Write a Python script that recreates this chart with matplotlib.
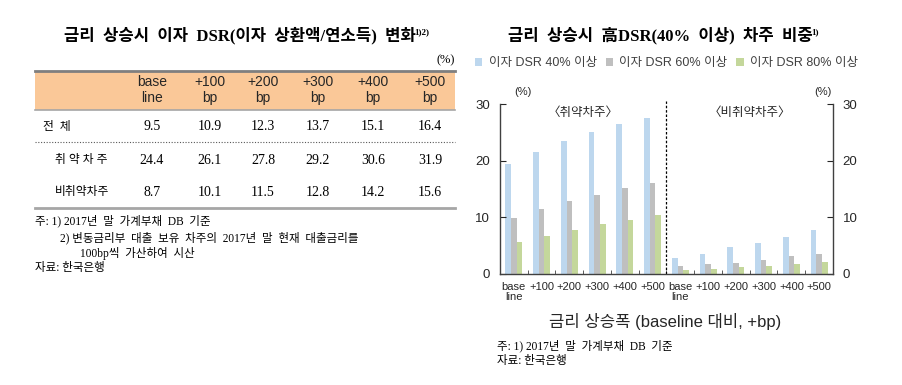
import numpy as np
import matplotlib
matplotlib.use("Agg")
import matplotlib.pyplot as plt
from matplotlib.patches import Rectangle

plt.rcParams['font.family'] = ['Noto Sans CJK KR', 'DejaVu Sans']

SERIF = ['Liberation Serif', 'Noto Sans CJK KR']
SANS = ['Liberation Sans', 'Noto Sans CJK KR']

# ---- table data (left panel) ----
tab_cols = ['base\nline', '+100\nbp', '+200\nbp', '+300\nbp', '+400\nbp', '+500\nbp']
tab_rows = ['전  체', '취 약 차 주', '비취약차주']
dsr_total = [9.5, 10.9, 12.3, 13.7, 15.1, 16.4]
dsr_vuln = [24.4, 26.1, 27.8, 29.2, 30.6, 31.9]
dsr_nonvuln = [8.7, 10.1, 11.5, 12.8, 14.2, 15.6]

# ---- bar data (right panel) ----
groups = ['base\nline', '+100', '+200', '+300', '+400', '+500'] * 2
series_names = ['이자 DSR 40% 이상', '이자 DSR 60% 이상', '이자 DSR 80% 이상']
dsr40 = [19.4, 21.5, 23.5, 25.0, 26.4, 27.6, 2.9, 3.6, 4.7, 5.5, 6.5, 7.8]
dsr60 = [9.8, 11.4, 12.8, 14.0, 15.1, 16.1, 1.4, 1.7, 2.0, 2.5, 3.2, 3.6]
dsr80 = [5.7, 6.7, 7.7, 8.8, 9.6, 10.5, 0.7, 0.8, 1.2, 1.4, 1.8, 2.1]
colors = ['#BDD7EE', '#BFBFBF', '#C4D79B']

fig = plt.figure(figsize=(9.03, 3.85), dpi=100)

# overlay in pixel coords for the table / captions
ov = fig.add_axes([0, 0, 1, 1], zorder=0)
ov.set_xlim(0, 903)
ov.set_ylim(385, 0)
ov.axis('off')

# left title
t1 = ov.text(240, 36, '금리  상승시  이자  DSR(이자  상환액/연소득)  변화', ha='center', va='center',
             fontsize=12, fontweight='bold', family=SERIF)
ov.annotate('1)2)', xy=(1, 1), xycoords=t1, xytext=(-1, -1), textcoords='offset points',
            ha='left', va='top', fontsize=6.5, fontweight='bold', family=SERIF)
ov.text(455, 60, '(%)', ha='right', va='center', fontsize=9, family=SERIF)

# header band
ov.add_patch(Rectangle((35, 71), 420, 38.5, facecolor='#FAC898', edgecolor='none'))
ov.plot([35, 455], [71, 71], color='#7F7F7F', lw=2)
ov.plot([35, 455], [109.5, 109.5], color='#A6A6A6', lw=1.2)
ov.plot([35, 455], [141.5, 141.5], color='#595959', lw=0.8, ls=(0, (1, 1.5)))
ov.plot([35, 455], [208, 208], color='#A6A6A6', lw=2)

col_x = [152, 210, 263, 318, 373, 430]
for cx, lab in zip(col_x, tab_cols):
    ov.text(cx, 90, lab, ha='center', va='center', fontsize=10, family=SANS,
            color='#262626', linespacing=1.1)

row_y = [127, 160, 192]
row_x = [43, 55, 55]
for ry, rx, lab, vals in zip(row_y, row_x, tab_rows, [dsr_total, dsr_vuln, dsr_nonvuln]):
    ov.text(rx, ry, lab, ha='left', va='center', fontsize=8.5, family=SERIF)
    for cx, v in zip(col_x, vals):
        ov.text(cx, ry, f'{v:.1f}', ha='center', va='center', fontsize=10, family=SERIF)

note_kw = dict(ha='left', va='center', fontsize=8.3, family=SERIF)
ov.text(35, 221, '주: 1) 2017년  말  가계부채  DB  기준', **note_kw)
ov.text(60, 238, '2) 변동금리부  대출  보유  차주의  2017년  말  현재  대출금리를', **note_kw)
ov.text(80, 253, '100bp씩  가산하여  시산', **note_kw)
ov.text(35, 268, '자료: 한국은행', **note_kw)

# right title
t2 = ov.text(660, 36, '금리  상승시  高DSR(40%  이상)  차주  비중', ha='center', va='center',
             fontsize=12, fontweight='bold', family=SERIF)
ov.annotate('1)', xy=(1, 1), xycoords=t2, xytext=(-1, -1), textcoords='offset points',
            ha='left', va='top', fontsize=6.5, fontweight='bold', family=SERIF)

ov.text(497, 346, '주: 1) 2017년  말  가계부채  DB  기준', **note_kw)
ov.text(497, 361, '자료: 한국은행', **note_kw)

# ---- bar chart ----
ax = fig.add_axes([500 / 903, 111 / 385, 333 / 903, 170 / 385], zorder=1)
ax.patch.set_alpha(0)
x = np.arange(len(groups))
w = 0.205
for i, (vals, c, name) in enumerate(zip([dsr40, dsr60, dsr80], colors, series_names)):
    ax.bar(x + (i - 1) * w, vals, width=w, color=c, label=name)

ax.set_xlim(-0.5, len(groups) - 0.5)
ax.set_ylim(0, 30)
ax.set_yticks([0, 10, 20, 30])
ax.tick_params(axis='y', direction='in', length=4, left=True, right=True,
               labelleft=True, labelright=True, labelsize=9.5, colors='#262626', pad=7)
for lab in ax.get_yticklabels():
    lab.set_family(SANS)
ax.set_xticks(x)
ax.set_xticklabels(groups, fontsize=8, linespacing=0.9, color='#262626', family=SANS)
ax.tick_params(axis='x', length=0, pad=6)
ax.set_xticks(x[:-1] + 0.5, minor=True)
ax.tick_params(axis='x', which='minor', direction='in', length=3, color='#404040')
ax.spines['top'].set_visible(False)
for s in ['left', 'right', 'bottom']:
    ax.spines[s].set_color('#404040')
    ax.spines[s].set_linewidth(1)

half = len(groups) / 2 - 0.5
ax.plot([half, half], [0, 30.6], color='black', lw=0.9, ls=(0, (2, 1.5)), clip_on=False)

ax.text(0.07, 1.04, '(%)', transform=ax.transAxes, ha='center', va='bottom', fontsize=8,
        color='#262626', family=SANS)
ax.text(0.97, 1.04, '(%)', transform=ax.transAxes, ha='center', va='bottom', fontsize=8,
        color='#262626', family=SANS)
ax.text(np.mean(x[:6]), 28.6, '〈취약차주〉', ha='center', va='center', fontsize=9, color='#262626')
ax.text(np.mean(x[6:]), 28.6, '〈비취약차주〉', ha='center', va='center', fontsize=9, color='#262626')

ax.legend(loc='center', bbox_to_anchor=(0.5, 1.24), ncol=3, frameon=False,
          prop={'family': SANS, 'size': 9},
          handlelength=0.6, handleheight=0.6, handletextpad=0.5, columnspacing=0.7,
          labelcolor='#404040', borderaxespad=0)

ov.text(665, 321, '금리 상승폭 (baseline 대비, +bp)', ha='center', va='center', fontsize=12,
        family=SANS, color='#262626')

fig.savefig('out.png', dpi=100)
